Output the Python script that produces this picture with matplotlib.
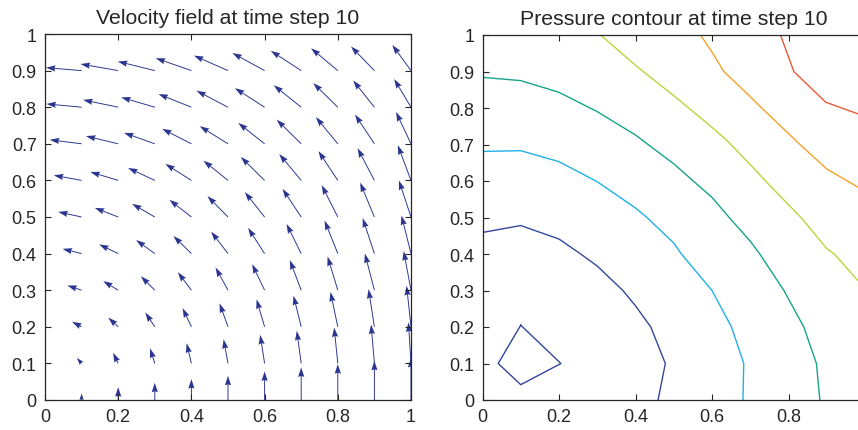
import matplotlib
matplotlib.use("Agg")
import matplotlib.pyplot as plt
import numpy as np
from matplotlib.ticker import FuncFormatter

plt.rcParams["font.family"] = ["Liberation Sans", "DejaVu Sans"]

# ---- velocity field (11 x 11 grid, rows = y, columns = x) ----
grid = [0.0, 0.1, 0.2, 0.3, 0.4, 0.5, 0.6, 0.7, 0.8, 0.9, 1.0]

u_rows = [
    [0.0, 0.0, 0.0, 0.0, 0.0, 0.0, 0.0, 0.0, 0.0, 0.0, 0.0],
    [-0.014, -0.013, -0.014, -0.013, -0.013, -0.012, -0.012, -0.012, -0.010, -0.009, -0.007],
    [-0.027, -0.026, -0.027, -0.026, -0.024, -0.023, -0.022, -0.021, -0.020, -0.016, -0.012],
    [-0.040, -0.039, -0.041, -0.038, -0.037, -0.034, -0.034, -0.031, -0.028, -0.026, -0.020],
    [-0.053, -0.052, -0.052, -0.051, -0.049, -0.046, -0.045, -0.040, -0.036, -0.032, -0.026],
    [-0.065, -0.064, -0.064, -0.062, -0.060, -0.056, -0.054, -0.051, -0.044, -0.039, -0.033],
    [-0.077, -0.076, -0.076, -0.073, -0.071, -0.067, -0.065, -0.060, -0.053, -0.046, -0.036],
    [-0.088, -0.087, -0.088, -0.084, -0.080, -0.077, -0.072, -0.067, -0.060, -0.053, -0.041],
    [-0.097, -0.096, -0.096, -0.092, -0.090, -0.086, -0.081, -0.075, -0.067, -0.058, -0.046],
    [-0.098, -0.0975, -0.103, -0.101, -0.0975, -0.093, -0.088, -0.083, -0.073, -0.064, -0.051],
    [-0.100, -0.100, -0.104, -0.104, -0.100, -0.096, -0.091, -0.086, -0.077, -0.068, -0.055],
]

v_rows = [
    [0.0, 0.018, 0.035, 0.047, 0.057, 0.066, 0.078, 0.089, 0.098, 0.107, 0.115],
    [0.0, 0.015, 0.029, 0.041, 0.055, 0.066, 0.078, 0.089, 0.098, 0.106, 0.112],
    [0.0, 0.014, 0.025, 0.039, 0.051, 0.064, 0.075, 0.085, 0.095, 0.103, 0.112],
    [0.0, 0.013, 0.025, 0.038, 0.049, 0.062, 0.071, 0.082, 0.092, 0.100, 0.107],
    [0.0, 0.013, 0.025, 0.037, 0.048, 0.060, 0.070, 0.081, 0.090, 0.097, 0.104],
    [0.0, 0.014, 0.025, 0.036, 0.047, 0.057, 0.068, 0.077, 0.087, 0.094, 0.100],
    [0.0, 0.014, 0.023, 0.034, 0.045, 0.054, 0.064, 0.072, 0.080, 0.088, 0.096],
    [0.0, 0.011, 0.021, 0.030, 0.041, 0.048, 0.057, 0.066, 0.073, 0.080, 0.087],
    [0.0, 0.009, 0.020, 0.027, 0.036, 0.045, 0.052, 0.060, 0.066, 0.073, 0.077],
    [0.0, 0.008, 0.018, 0.025, 0.034, 0.041, 0.048, 0.054, 0.061, 0.066, 0.070],
    [0.0, 0.006, 0.016, 0.023, 0.031, 0.038, 0.045, 0.051, 0.057, 0.062, 0.066],
]

# ---- pressure contour lines (lowest level first) ----
loop_x = [0.100, 0.205, 0.100, 0.041, 0.100]
loop_y = [0.205, 0.100, 0.042, 0.100, 0.205]

arc1_x = [0.0, 0.1, 0.2, 0.254, 0.3, 0.367, 0.4, 0.44, 0.478, 0.459]
arc1_y = [0.459, 0.478, 0.441, 0.402, 0.367, 0.3, 0.258, 0.2, 0.1, 0.0]

arc2_x = [0.0, 0.1, 0.2, 0.3, 0.4, 0.43, 0.5, 0.52, 0.6, 0.651, 0.683, 0.681]
arc2_y = [0.681, 0.683, 0.653, 0.598, 0.526, 0.5, 0.43, 0.4, 0.3, 0.2, 0.1, 0.0]

arc3_x = [0.0, 0.1, 0.2, 0.3, 0.4, 0.5, 0.6, 0.645, 0.7, 0.725, 0.788, 0.84, 0.873, 0.882]
arc3_y = [0.884, 0.875, 0.843, 0.79, 0.726, 0.647, 0.555, 0.5, 0.435, 0.4, 0.3, 0.2, 0.1, 0.0]

arc4_x = [0.309, 0.4, 0.42, 0.5, 0.6, 0.64, 0.7, 0.74, 0.835, 0.9, 0.92, 1.0]
arc4_y = [1.0, 0.917, 0.9, 0.834, 0.747, 0.71, 0.645, 0.6, 0.497, 0.415, 0.4, 0.305]

arc5_x = [0.570, 0.602, 0.631, 0.7, 0.73, 0.8, 0.83, 0.9, 1.0]
arc5_y = [1.0, 0.95, 0.9, 0.831, 0.8, 0.73, 0.7, 0.633, 0.572]

arc6_x = [0.779, 0.814, 0.897, 1.0]
arc6_y = [1.0, 0.9, 0.816, 0.777]

contour_lines = [
    (loop_x, loop_y, "#33479c"),
    (arc1_x, arc1_y, "#33479c"),
    (arc2_x, arc2_y, "#1fb1e6"),
    (arc3_x, arc3_y, "#16a38c"),
    (arc4_x, arc4_y, "#bcd43a"),
    (arc5_x, arc5_y, "#f5a22a"),
    (arc6_x, arc6_y, "#eb5a36"),
]

TEXT = "#262626"
fmt = FuncFormatter(lambda v, _: f"{v:g}")

fig = plt.figure(figsize=(8.58, 4.31), dpi=100)
ax1 = fig.add_axes([45 / 858, 30 / 431, 366 / 858, 366 / 431])
# the right panel runs a little past the figure edge, as in the original crop
ax2 = fig.add_axes([482.5 / 858, 30 / 431, 382.5 / 858, 365 / 431])

X, Y = np.meshgrid(grid, grid)
ax1.quiver(X, Y, np.array(u_rows), np.array(v_rows), angles="xy", scale_units="xy",
           scale=1, color="#2b3590", width=0.0026, headwidth=6.5, headlength=10,
           headaxislength=9)

for cx, cy, col in contour_lines:
    ax2.plot(cx, cy, color=col, lw=1.0)

panels = (
    (ax1, "Velocity field at time step 10", [0, 0.2, 0.4, 0.6, 0.8, 1.0]),
    (ax2, "Pressure contour at time step 10", [0, 0.2, 0.4, 0.6, 0.8]),
)
for ax, title, xt in panels:
    ax.set_xlim(0, 1)
    ax.set_ylim(0, 1)
    ax.set_xticks(xt)
    ax.set_yticks(np.arange(0, 1.01, 0.1))
    ax.xaxis.set_major_formatter(fmt)
    ax.yaxis.set_major_formatter(fmt)
    ax.tick_params(direction="in", length=4, width=0.8, top=True, right=True,
                   labelsize=13, colors=TEXT, pad=6)
    for s in ax.spines.values():
        s.set_color(TEXT)
        s.set_linewidth(0.9)
    ax.set_title(title, fontsize=15.3, color=TEXT, pad=8)

fig.savefig("out.png", dpi=100)
